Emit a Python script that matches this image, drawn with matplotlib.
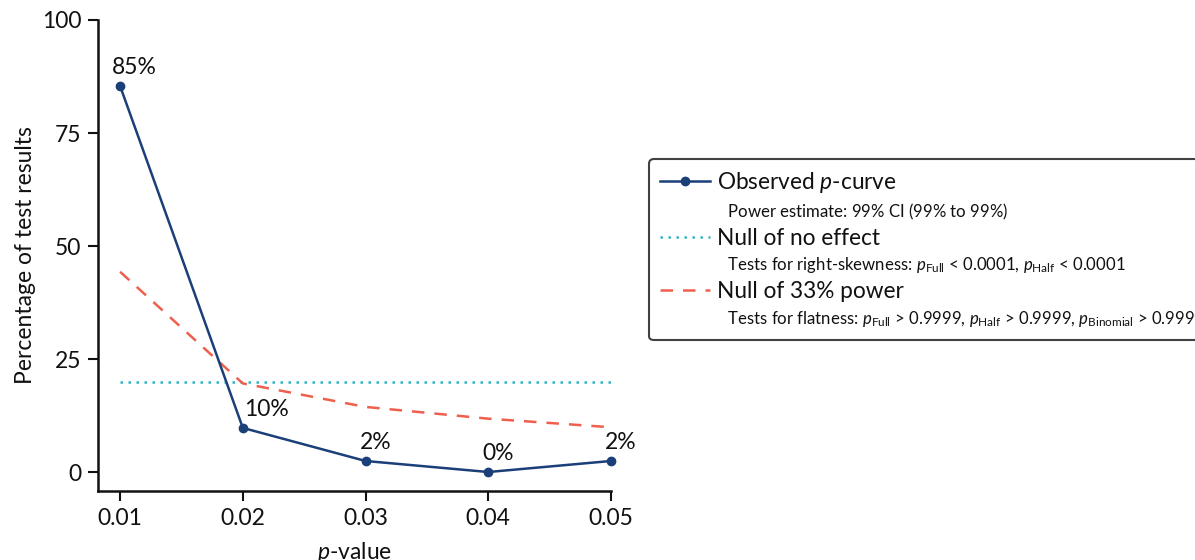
import matplotlib
matplotlib.use("Agg")
import matplotlib.pyplot as plt
from matplotlib.lines import Line2D

plt.rcParams['font.family'] = ['Lato', 'DejaVu Sans']
plt.rcParams['mathtext.fontset'] = 'custom'
plt.rcParams['mathtext.rm'] = 'Lato'
plt.rcParams['mathtext.it'] = 'Lato:italic'
plt.rcParams['mathtext.bf'] = 'Lato:bold'

# ---- data ----
p_values = [0.01, 0.02, 0.03, 0.04, 0.05]
observed = [85.4, 9.76, 2.44, 0.0, 2.44]
observed_labels = ["85%", "10%", "2%", "0%", "2%"]
null_no_effect = [20, 20, 20, 20, 20]
null_33_power = [44.3, 19.6, 14.4, 11.8, 9.9]
x_ticklabels = ["0.01", "0.02", "0.03", "0.04", "0.05"]
y_ticks = [0, 25, 50, 75, 100]

legend_titles = ["Observed $p$-curve", "Null of no effect", "Null of 33% power"]
legend_subs = [
    "Power estimate: 99% CI (99% to 99%)",
    r"Tests for right-skewness: $p_{\mathrm{Full}}$ < 0.0001, $p_{\mathrm{Half}}$ < 0.0001",
    r"Tests for flatness: $p_{\mathrm{Full}}$ > 0.9999, $p_{\mathrm{Half}}$ > 0.9999, $p_{\mathrm{Binomial}}$ > 0.9999",
]

BLUE = "#1b3f78"
CYAN = "#2fb5c0"
RED = "#ef5f4e"
TXT = "#111111"

fig = plt.figure(figsize=(11.95, 5.6), dpi=100)
ax = fig.add_axes([98/1195, 69/560, (611-98)/1195, (491-20)/560])

l_null, = ax.plot(p_values, null_no_effect, color=CYAN, linestyle=(0, (1.0, 2.2)), lw=1.8, clip_on=False)
l_33, = ax.plot(p_values, null_33_power, color=RED, linestyle=(0, (5, 4)), lw=1.8, clip_on=False)
l_obs, = ax.plot(p_values, observed, color=BLUE, lw=1.8, marker='o', ms=6, clip_on=False)

label_dx = [10, 17, 7, 7, 7]
for x, y, s, dx in zip(p_values, observed, observed_labels, label_dx):
    ax.annotate(s, (x, y), xytext=(dx, 13), textcoords='offset points',
                ha='center', va='center', fontsize=16.5, color=TXT)

ax.set_xlim(0.0082, 0.05)
ax.set_ylim(-4.2, 100)
ax.set_xticks(p_values)
ax.set_xticklabels(x_ticklabels)
ax.set_yticks(y_ticks)
ax.tick_params(labelsize=16.5, width=1.5, length=7, colors=TXT, pad=5)
for side in ['top', 'right']:
    ax.spines[side].set_visible(False)
for side in ['left', 'bottom']:
    ax.spines[side].set_linewidth(1.8)
    ax.spines[side].set_color(TXT)
ax.set_xlabel("$p$-value", fontsize=16.5, color=TXT, labelpad=8)
ax.set_ylabel("Percentage of test results", fontsize=16.5, color=TXT, labelpad=4)

blank = Line2D([], [], linestyle='none')
handles = [l_obs, blank, l_null, blank, l_33, blank]
indent = r"$\hspace{0.8}$"
labels = [legend_titles[0], indent + legend_subs[0],
          legend_titles[1], indent + legend_subs[1],
          legend_titles[2], indent + legend_subs[2]]
leg = fig.legend(handles, labels, loc='upper left',
                 bbox_to_anchor=(649/1195, (560-159)/560),
                 bbox_transform=fig.transFigure,
                 fontsize=16.3, frameon=True, fancybox=True,
                 handlelength=2.2, handletextpad=0.3, labelspacing=0.26,
                 borderpad=0.5, borderaxespad=0)
leg.get_frame().set_edgecolor(TXT)
leg.get_frame().set_linewidth(1.5)
for i, t in enumerate(leg.get_texts()):
    t.set_color(TXT)
    if i % 2 == 1:
        t.set_fontsize(12.1)

fig.savefig("out.png", dpi=100)
